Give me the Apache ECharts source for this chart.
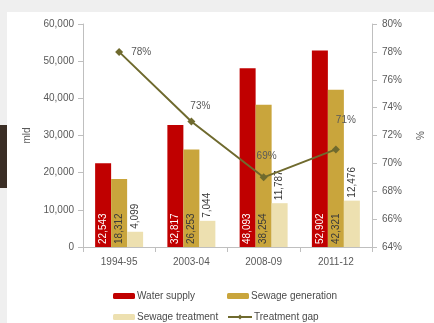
<!DOCTYPE html>
<html><head><meta charset="utf-8">
<script src="https://cdn.jsdelivr.net/npm/echarts@6/dist/echarts.min.js"></script>
<style>
html,body{margin:0;padding:0;background:#efefef;}
#wrap{position:absolute;left:0;top:0;width:434px;height:323px;background:#efefef;}
#panel{position:absolute;left:7px;top:12px;width:427px;height:311px;background:#ffffff;}
#brown{position:absolute;left:0;top:125px;width:7px;height:63px;background:#3a2e25;}
#chart{position:absolute;left:0;top:0;width:434px;height:323px;}
</style></head>
<body>
<div id="wrap"><div id="panel"></div><div id="brown"></div><div id="chart"></div></div>
<script>
var categories = ['1994-95', '2003-04', '2008-09', '2011-12'];
var waterSupply = [22543, 32817, 48093, 52902];
var sewageGeneration = [18312, 26253, 38254, 42321];
var sewageTreatment = [4099, 7044, 11787, 12476];
var treatmentGap = [78, 73, 69, 71];

var txt = '#595959';
var fontFam = 'Liberation Sans, sans-serif';
function fmt(v){ return v.toLocaleString('en-US'); }

// label placement for each point of the line (style only)
var gapLabelStyle = [
  {position: 'right', offset: [2, 0]},
  {position: 'top', offset: [9, 0]},
  {position: 'top', offset: [3, -6]},
  {position: 'top', offset: [10, -14]}
];
var gapData = treatmentGap.map(function(v, i){
  return {value: v, label: gapLabelStyle[i]};
});

var chart = echarts.init(document.getElementById('chart'), null, {renderer:'canvas'});
var legendBase = {itemWidth:22, itemHeight:6, itemGap:0, textStyle:{color:'#4a4a4a', fontSize:10, fontFamily:fontFam, padding:[0,0,0,-3]}, padding:0};
chart.setOption({
  backgroundColor: 'transparent',
  animation: false,
  textStyle: {fontFamily: fontFam},
  grid: {left: 83, right: 58, top: 24, bottom: 76},
  legend: [
    Object.assign({}, legendBase, {left: 113, top: 291, data: ['Water supply']}),
    Object.assign({}, legendBase, {left: 227, top: 291, data: ['Sewage generation']}),
    Object.assign({}, legendBase, {left: 113, top: 312, data: ['Sewage treatment']}),
    Object.assign({}, legendBase, {left: 227, top: 312, itemWidth: 24, data: ['Treatment gap']})
  ],
  xAxis: {
    type: 'category', data: categories,
    axisLine: {lineStyle: {color: '#bfbfbf'}},
    axisTick: {show: true, lineStyle: {color: '#bfbfbf'}},
    axisLabel: {color: txt, fontSize: 10, margin: 10}
  },
  yAxis: [
    {type: 'value', min: 0, max: 60000, interval: 10000, name: 'mld', nameLocation: 'middle', nameGap: 50, nameRotate: 90,
     nameTextStyle: {color: txt, fontSize: 10},
     axisLine: {show: true, lineStyle: {color: '#bfbfbf'}}, axisTick: {show: true, lineStyle: {color: '#bfbfbf'}},
     splitLine: {show: false},
     axisLabel: {color: txt, fontSize: 10, margin: 9, formatter: function(v){return fmt(v);}}},
    {type: 'value', min: 64, max: 80, interval: 2, name: '%', nameLocation: 'middle', nameGap: 44, nameRotate: 90,
     nameTextStyle: {color: txt, fontSize: 10},
     axisLine: {show: true, lineStyle: {color: '#bfbfbf'}}, axisTick: {show: true, lineStyle: {color: '#bfbfbf'}},
     splitLine: {show: false},
     axisLabel: {color: txt, fontSize: 10, margin: 10, formatter: '{value}%'}}
  ],
  series: [
    {name: 'Water supply', type: 'bar', data: waterSupply, barWidth: 16, barGap: '0%',
     itemStyle: {color: '#c00000'},
     label: {show: true, position: 'insideBottom', rotate: 90, align: 'left', verticalAlign: 'middle', distance: 3,
       color: '#ffffff', fontSize: 10, formatter: function(p){return fmt(p.value);}}},
    {name: 'Sewage generation', type: 'bar', data: sewageGeneration, barWidth: 16, barGap: '0%',
     itemStyle: {color: '#c9a53c'},
     label: {show: true, position: 'insideBottom', rotate: 90, align: 'left', verticalAlign: 'middle', distance: 3,
       color: '#3a3a3a', fontSize: 10, formatter: function(p){return fmt(p.value);}}},
    {name: 'Sewage treatment', type: 'bar', data: sewageTreatment, barWidth: 16, barGap: '0%',
     itemStyle: {color: '#ede0b0'},
     label: {show: true, position: 'top', rotate: 90, align: 'left', verticalAlign: 'middle', distance: 3,
       color: '#3a3a3a', fontSize: 10, formatter: function(p){return fmt(p.value);}}},
    {name: 'Treatment gap', type: 'line', yAxisIndex: 1, data: gapData,
     symbol: 'diamond', symbolSize: 8, lineStyle: {color: '#6f6a2e', width: 2}, itemStyle: {color: '#6f6a2e'},
     label: {show: true, color: txt, fontSize: 10, distance: 6, formatter: '{c}%'}}
  ]
});
</script>
</body></html>
